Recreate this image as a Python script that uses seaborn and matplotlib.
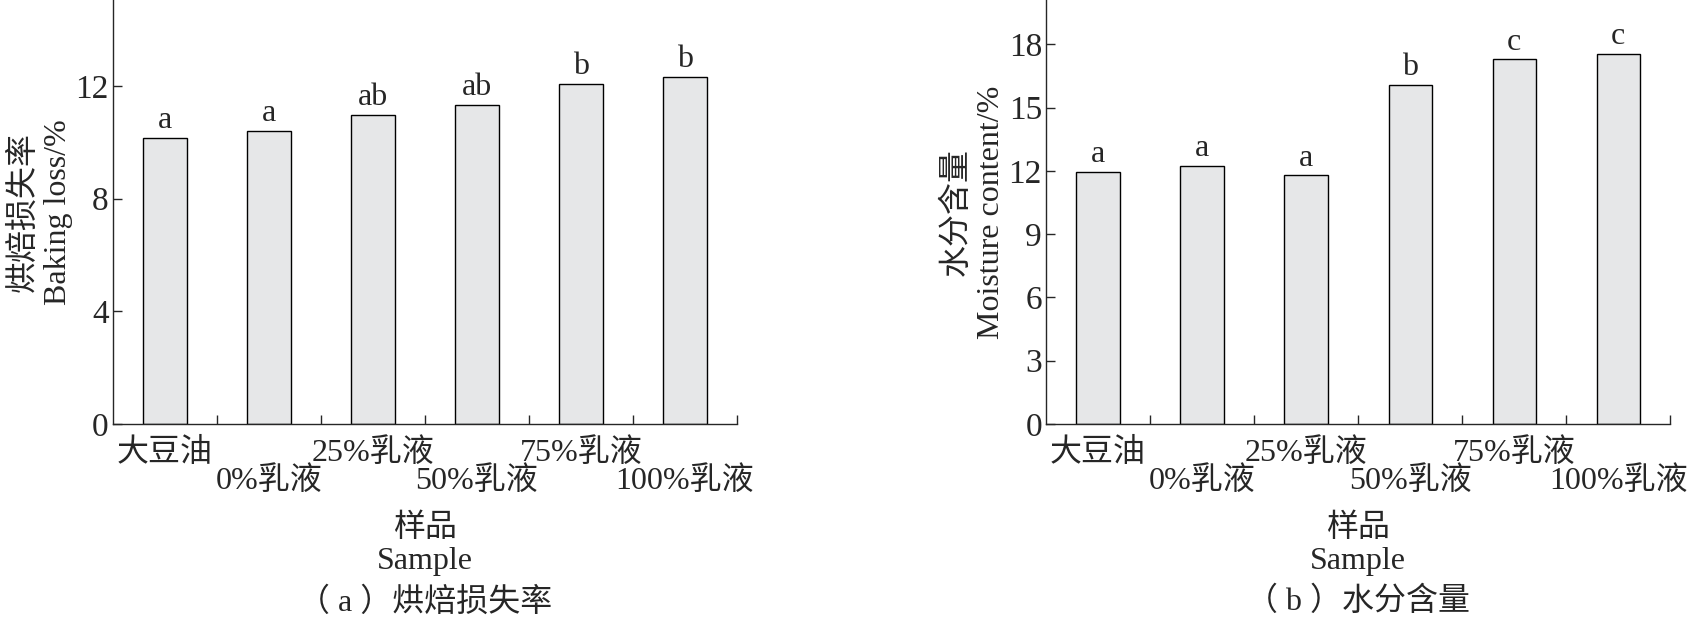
import numpy as np
import pandas as pd
import seaborn as sns
import matplotlib.pyplot as plt

samples = ["大豆油", "0%乳液", "25%乳液", "50%乳液", "75%乳液", "100%乳液"]
baking_loss = [10.15, 10.41, 10.97, 11.33, 12.06, 12.32]
baking_letters = ["a", "a", "ab", "ab", "b", "b"]
moisture = [11.95, 12.25, 11.79, 16.09, 17.28, 17.56]
moisture_letters = ["a", "a", "a", "b", "c", "c"]

sns.set_style("ticks")
plt.rcParams['font.family'] = ['Liberation Serif', 'Noto Sans CJK SC', 'DejaVu Sans']
plt.rcParams['font.size'] = 23
plt.rcParams['axes.linewidth'] = 1.0

BAR_COLOR = "#e6e7e8"
FS = 23


def draw_panel(ax, values, letters, ylim, yticks, ylabel, caption):
    df = pd.DataFrame({'sample': samples, 'value': values})
    sns.barplot(data=df, x='sample', y='value', order=samples, color=BAR_COLOR,
                saturation=1, edgecolor='black', linewidth=1.0, width=0.415, ax=ax)

    # significance letters above each bar
    for i, (v, lt) in enumerate(zip(values, letters)):
        ax.annotate(lt, xy=(i, v), xytext=(0, 2), textcoords='offset points',
                    ha='center', va='bottom', fontsize=FS)

    ax.set_xlim(-0.5, len(samples) - 0.5)
    ax.set_ylim(*ylim)
    ax.set_yticks(yticks)
    ax.set_yticklabels([str(t) for t in yticks])

    # boundary tick marks between categories (and at the right end)
    pos = np.arange(len(samples))
    ax.set_xticks(pos + 0.5)
    ax.set_xticklabels([])
    ax.tick_params(axis='x', which='major', direction='in', length=6.5, width=1)

    # staggered labels: even ones on the first row, odd ones on the second
    ax.set_xticks(pos[0::2], minor=True)
    ax.set_xticklabels(samples[0::2], minor=True, fontsize=FS)
    ax.tick_params(axis='x', which='minor', length=0, pad=10)
    sec = ax.secondary_xaxis('bottom')
    sec.set_xticks(pos[1::2], labels=samples[1::2], fontsize=FS)
    sec.tick_params(axis='x', length=0, pad=30)
    sec.spines['bottom'].set_visible(False)

    ax.tick_params(axis='y', direction='in', length=6.5, width=1, pad=3, labelsize=24)

    sns.despine(ax=ax)

    ax.set_ylabel(ylabel, va='center', linespacing=1.25, fontsize=FS)
    ax.yaxis.set_label_coords(-0.116, 0.5)
    ax.set_xlabel("样品\nSample", va='center', linespacing=1.2, fontsize=FS)
    ax.xaxis.set_label_coords(0.5, -0.285)
    ax.text(0.5, -0.42, caption, transform=ax.transAxes, ha='center', va='center',
            fontsize=FS)


fig = plt.figure(figsize=(16.88, 6.21), dpi=100)
ax1 = fig.add_axes([0.0669, 0.3172, 0.3697, 0.6828])
ax2 = fig.add_axes([0.6197, 0.3172, 0.3697, 0.6828])

draw_panel(ax1, baking_loss, baking_letters, (0, 15.05), [0, 4, 8, 12],
           "烘焙损失率\nBaking loss/%", "（ a ）烘焙损失率")
draw_panel(ax2, moisture, moisture_letters, (0, 20.1), [0, 3, 6, 9, 12, 15, 18],
           "水分含量\nMoisture content/%", "（ b ）水分含量")

plt.savefig('out.png', dpi=100)
